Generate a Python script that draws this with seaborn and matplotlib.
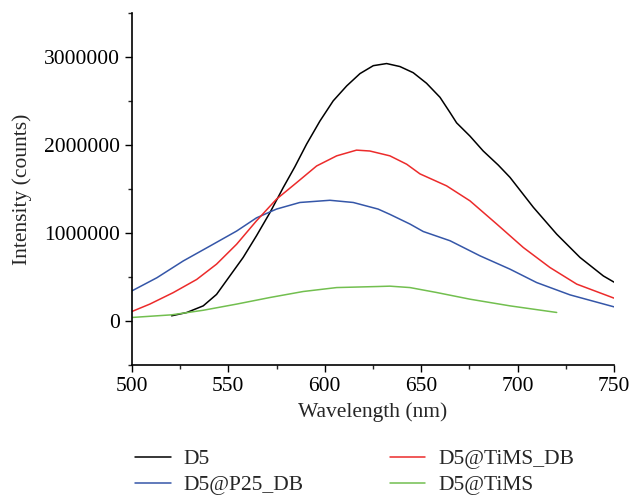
import numpy as np
import pandas as pd
import matplotlib
matplotlib.use("Agg")
import matplotlib.pyplot as plt
from matplotlib.ticker import AutoMinorLocator, MultipleLocator
import seaborn as sns

# values (intensity in counts)
wl_d5 = [520.6, 528.4, 537, 543.9, 550.8, 557.7, 564.6, 571.6, 578.5, 584.5, 590.6,
         597.5, 604.4, 611.4, 618.3, 625.2, 632.1, 639, 645.9, 652.8, 659.8, 664.9,
         668.4, 675.3, 682.2, 690, 696.1, 708.2, 720.3, 732.4, 744.5, 750]
int_d5 = [57000, 94000, 170000, 300000, 510000, 720000, 966000, 1230000, 1515000,
          1750000, 2008000, 2270000, 2500000, 2670000, 2810000, 2900000, 2924000,
          2890000, 2820000, 2700000, 2540000, 2370000, 2250000, 2100000, 1930000,
          1770000, 1630000, 1290000, 985000, 720000, 510000, 440000]

wl_tims_db = [500, 509.3, 521.4, 533.6, 543.9, 554.3, 564.6, 575, 585.4, 595.8, 606.2,
              616.5, 623.4, 633.8, 642.5, 649.4, 663.2, 675.3, 689.2, 703, 716.8,
              730.7, 750]
int_tims_db = [106000, 190000, 320000, 470000, 644000, 870000, 1136000, 1383000,
               1570000, 1760000, 1875000, 1940000, 1930000, 1875000, 1780000, 1670000,
               1534000, 1364000, 1100000, 833000, 606000, 417000, 258000]

wl_p25_db = [500, 513, 526.6, 540.5, 554.3, 564.6, 575, 587.1, 602.7, 614.8, 627.7,
             633.8, 644.2, 651.1, 665, 680.5, 696.1, 709.9, 727.2, 750]
int_p25_db = [340000, 490000, 680000, 850000, 1020000, 1170000, 1270000, 1345000,
              1370000, 1345000, 1270000, 1210000, 1100000, 1015000, 910000, 739000,
              587000, 435000, 295000, 159000]

wl_tims = [500, 520.6, 537, 554.3, 571.6, 588.8, 606.2, 627.7, 633.8, 644.2, 658,
           675.3, 696.1, 720.3]
int_tims = [38000, 68000, 120000, 190000, 265000, 333000, 378000, 390000, 394000,
            378000, 322000, 246000, 170000, 95000]

labels = ["D5", "D5@P25_DB", "D5@TiMS_DB", "D5@TiMS"]
colors = ["#000000", "#3556a8", "#ec2b2b", "#72bf4f"]

frames = []
for name, wl, val in [("D5", wl_d5, int_d5), ("D5@P25_DB", wl_p25_db, int_p25_db),
                      ("D5@TiMS_DB", wl_tims_db, int_tims_db), ("D5@TiMS", wl_tims, int_tims)]:
    frames.append(pd.DataFrame({"wavelength": wl, "intensity": val, "sample": name}))
df = pd.concat(frames, ignore_index=True)

sns.set_style("ticks")
plt.rcParams["font.family"] = ["Liberation Serif", "DejaVu Serif"]

fig = plt.figure(figsize=(6.31, 4.95), dpi=100)
ax = fig.add_axes([0.209, 0.263, 0.764, 0.711])

sns.lineplot(data=df, x="wavelength", y="intensity", hue="sample", hue_order=labels,
             palette=dict(zip(labels, colors)), sort=False, linewidth=1.1, ax=ax)

ax.set_xlim(500, 750)
ax.set_ylim(-500000, 3500000)
ax.xaxis.set_major_locator(MultipleLocator(50))
ax.yaxis.set_major_locator(MultipleLocator(1000000))
ax.xaxis.set_minor_locator(AutoMinorLocator(2))
ax.yaxis.set_minor_locator(AutoMinorLocator(2))
ax.ticklabel_format(axis="y", style="plain")
ax.tick_params(which="major", length=5, width=1, labelsize=15.5, colors="black")
ax.tick_params(which="minor", length=3, width=1)
for s in ["left", "bottom"]:
    ax.spines[s].set_linewidth(1.2)
    ax.spines[s].set_color("black")
sns.despine(ax=ax)

ax.set_xlabel("Wavelength (nm)", fontsize=15.5, labelpad=5)
ax.set_ylabel("Intensity (counts)", fontsize=15.5, labelpad=9)

handles, texts = ax.get_legend_handles_labels()
ax.get_legend().remove()
fig.legend(handles, texts, ncol=2, frameon=False, fontsize=15.5, loc="upper left",
           bbox_to_anchor=(135 / 631, 1 - 449 / 495), borderpad=0, borderaxespad=0,
           handlelength=1.65, handletextpad=0.6, columnspacing=4.0,
           labelspacing=0.28)

fig.savefig("out.png", dpi=100)
